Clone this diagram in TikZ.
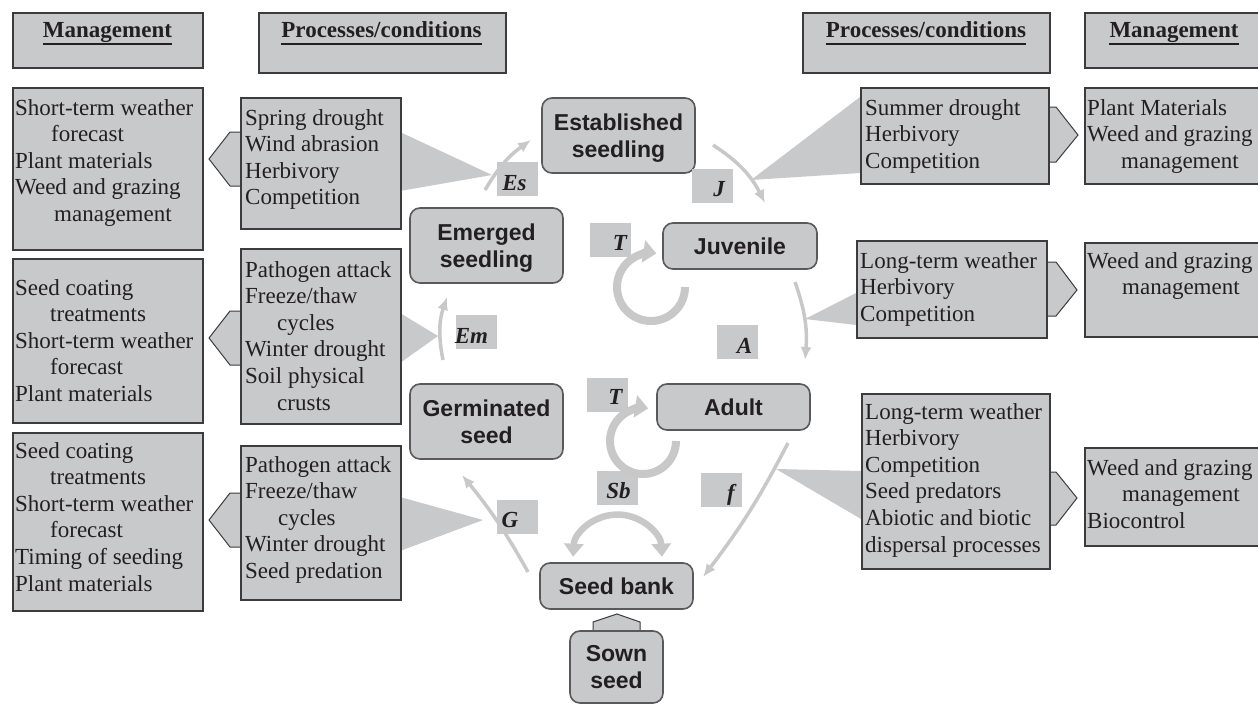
\documentclass[tikz,border=0pt]{standalone}
\usepackage{fontspec}
\setmainfont{Liberation Serif}
\newfontfamily\sansfam{Liberation Sans}
\usetikzlibrary{arrows.meta}
\definecolor{boxfill}{RGB}{200,201,203}
\definecolor{boxline}{RGB}{60,60,62}
\definecolor{arrgray}{RGB}{200,200,201}
\definecolor{txt}{RGB}{35,31,32}
\newcommand{\mylines}[1]{\begin{tabular}[t]{@{}l@{}}#1\end{tabular}}
\newcommand{\mycenter}[1]{\vbox{\kern6pt\hbox{\begin{tabular}{@{}c@{}}#1\end{tabular}}}}
\begin{document}
\begin{tikzpicture}[x=1pt,y=1pt,
 every node/.style={text=txt},
 infobox/.style={draw=boxline, fill=boxfill, line width=1.6pt, inner sep=0pt, anchor=north west},
 stxt/.style={font=\fontsize{23}{26.6}\selectfont, inner sep=0pt, anchor=base west},
 hdr/.style={font=\fontsize{23}{26.6}\selectfont\bfseries, inner sep=0pt, anchor=base},
 uline/.style={draw=txt, line width=2.6pt},
 state/.style={draw=boxline!85, fill=boxfill, line width=1.6pt, rounded corners=10pt, inner sep=0pt, font=\fontsize{23}{27}\selectfont\sansfam\bfseries},
 lblbox/.style={fill=boxfill, inner sep=0pt, minimum width=41pt, minimum height=34pt},
 lbltxt/.style={font=\fontsize{23}{26}\selectfont\bfseries\itshape, inner sep=0pt, anchor=base},
 wedge/.style={fill=boxfill},
 pent/.style={draw=boxline, fill=boxfill, line width=1pt, line join=miter},
 flow/.style={draw=arrgray, line width=3.5pt, -{Latex[length=13pt,width=11pt]}},
 loopy/.style={draw=arrgray, line width=8pt, -{Triangle[length=13pt,width=22pt]}},
 dbl/.style={draw=arrgray, line width=6.5pt, {Triangle[length=13pt,width=19pt]}-{Triangle[length=13pt,width=19pt]}},
]
\useasboundingbox (0,0) rectangle (1258,-704);
\clip (0,0) rectangle (1258,-704);

% wedges (callouts)
\fill[wedge] (400,-132) -- (492,-175) -- (400,-191) -- cycle;
\fill[wedge] (400,-313) -- (438,-336) -- (400,-363) -- cycle;
\fill[wedge] (400,-497) -- (483,-520) -- (400,-551) -- cycle;
\fill[wedge] (860,-97) -- (751,-180) -- (860,-173) -- cycle;
\fill[wedge] (856,-293) -- (805,-319) -- (856,-325) -- cycle;
\fill[wedge] (861,-471) -- (776,-469) -- (861,-519) -- cycle;

% pentagon arrows to management
\filldraw[pent] (240,-132) -- (230,-132) -- (209,-159) -- (230,-186) -- (240,-186);
\filldraw[pent] (240,-311) -- (230,-311) -- (209,-338) -- (230,-365) -- (240,-365);
\filldraw[pent] (240,-493) -- (230,-493) -- (209,-520) -- (230,-547) -- (240,-547);
\filldraw[pent] (1048,-107) -- (1056,-107) -- (1078,-135) -- (1056,-162) -- (1048,-162);
\filldraw[pent] (1046,-262) -- (1056,-262) -- (1077,-290) -- (1056,-316) -- (1046,-316);
\filldraw[pent] (1049,-472) -- (1056,-472) -- (1077,-498) -- (1056,-525) -- (1049,-525);
\filldraw[pent] (593,-631) -- (593,-622) -- (617,-614) -- (640,-622) -- (640,-631);

% header boxes
\node[infobox, minimum width=190pt, minimum height=55pt] (bHLM) at (12,-12) {};
\node[infobox, minimum width=247pt, minimum height=60pt] (bHLP) at (258,-12) {};
\node[infobox, minimum width=247pt, minimum height=60pt] (bHRP) at (802,-12) {};
\node[infobox, minimum width=190pt, minimum height=55pt] (bHRM) at (1084,-12) {};
\node[hdr] (hLM) at (107.5,-37) {Management};
\node[hdr] (hLP) at (381.5,-37) {Processes/conditions};
\node[hdr] (hRP) at (926,-37) {Processes/conditions};
\node[hdr] (hRM) at (1174,-37) {Management};
\foreach \h in {hLM,hLP,hRP,hRM}{
  \draw[uline] ([yshift=-7pt]\h.base west) -- ([yshift=-7pt]\h.base east);
}

% information boxes
\node[infobox, minimum width=190pt, minimum height=162pt] (LM1) at (12,-87) {};
\node[infobox, minimum width=160pt, minimum height=131pt] (LP1) at (240,-97) {};
\node[infobox, minimum width=190pt, minimum height=164pt] (LM2) at (12,-258) {};
\node[infobox, minimum width=160pt, minimum height=175pt] (LP2) at (240,-248) {};
\node[infobox, minimum width=190pt, minimum height=178pt] (LM3) at (12,-432) {};
\node[infobox, minimum width=160pt, minimum height=154pt] (LP3) at (240,-445) {};
\node[infobox, minimum width=188pt, minimum height=96pt] (RP1) at (860,-87) {};
\node[infobox, minimum width=190pt, minimum height=96pt] (RM1) at (1084,-87) {};
\node[infobox, minimum width=190pt, minimum height=97pt] (RP2) at (856,-240) {};
\node[infobox, minimum width=190pt, minimum height=94pt] (RM2) at (1084,-242) {};
\node[infobox, minimum width=188pt, minimum height=175pt] (RP3) at (861,-393) {};
\node[infobox, minimum width=190pt, minimum height=98pt] (RM3) at (1084,-447) {};

\node[stxt] (tLM1) at (15,-115) {\mylines{Short-term weather\\ \hspace*{36pt}forecast\\ Plant materials\\ Weed and grazing\\ \hspace*{39pt}management}};
\node[stxt] (tLP1) at (245,-125) {\mylines{Spring drought\\ Wind abrasion\\ Herbivory\\ Competition}};
\node[stxt] (tLM2) at (15,-295) {\mylines{Seed coating\\ \hspace*{35pt}treatments\\ Short-term weather\\ \hspace*{35pt}forecast\\ Plant materials}};
\node[stxt] (tLP2) at (245,-277) {\mylines{Pathogen attack\\ Freeze/thaw\\ \hspace*{32pt}cycles\\ Winter drought\\ Soil physical\\ \hspace*{32pt}crusts}};
\node[stxt] (tLM3) at (15,-458) {\mylines{Seed coating\\ \hspace*{35pt}treatments\\ Short-term weather\\ \hspace*{35pt}forecast\\ Timing of seeding\\ Plant materials}};
\node[stxt] (tLP3) at (245,-472) {\mylines{Pathogen attack\\ Freeze/thaw\\ \hspace*{33pt}cycles\\ Winter drought\\ Seed predation}};
\node[stxt] (tRP1) at (865,-115) {\mylines{Summer drought\\ Herbivory\\ Competition}};
\node[stxt] (tRM1) at (1087,-115) {\mylines{Plant Materials\\ Weed and grazing\\ \hspace*{34pt}management}};
\node[stxt] (tRP2) at (860,-268) {\mylines{Long-term weather\\ Herbivory\\ Competition}};
\node[stxt] (tRM2) at (1087,-268) {\mylines{Weed and grazing\\ \hspace*{35pt}management}};
\node[stxt] (tRP3) at (865,-419) {\mylines{Long-term weather\\ Herbivory\\ Competition\\ Seed predators\\ Abiotic and biotic\\ dispersal processes}};
\node[stxt] (tRM3) at (1087,-475) {\mylines{Weed and grazing\\ \hspace*{35pt}management\\ Biocontrol}};

% life-stage nodes
\node[state, minimum width=153pt, minimum height=75pt] (est) at (618.5,-135.5) {\mycenter{Established\\seedling}};
\node[state, minimum width=153pt, minimum height=75pt] (emg) at (486.5,-245.5) {\mycenter{Emerged\\seedling}};
\node[state, minimum width=154pt, minimum height=46pt] (juv) at (740,-246) {\mycenter{Juvenile}};
\node[state, minimum width=153pt, minimum height=75pt] (ger) at (486.5,-421.5) {\mycenter{Germinated\\seed}};
\node[state, minimum width=153pt, minimum height=46pt] (adu) at (733.5,-407) {\mycenter{Adult}};
\node[state, minimum width=153pt, minimum height=46pt] (sbk) at (616.5,-586) {\mycenter{Seed bank}};
\node[state, minimum width=93pt, minimum height=72pt] (sown) at (616.5,-667) {\mycenter{Sown\\seed}};

% transition label boxes
\node[lblbox] (bEs) at (517.5,-179) {};
\node[lblbox] (bJ) at (712,-186) {};
\node[lblbox] (bT1) at (610,-240) {};
\node[lblbox] (bA) at (737.5,-341.5) {};
\node[lblbox] (bEm) at (476,-331.5) {};
\node[lblbox] (bT2) at (607,-395) {};
\node[lblbox] (bSb) at (617,-488) {};
\node[lblbox] (bf) at (721,-490) {};
\node[lblbox] (bG) at (517.5,-516.5) {};
\node[lbltxt] (lEs) at (514.5,-190) {Es};
\node[lbltxt] (lJ) at (719,-196) {J};
\node[lbltxt] (lT1) at (620,-250) {T};
\node[lbltxt] (lA) at (744.5,-353) {A};
\node[lbltxt] (lEm) at (471.5,-343) {Em};
\node[lbltxt] (lT2) at (615.5,-404) {T};
\node[lbltxt] (lSb) at (618.5,-498) {Sb};
\node[lbltxt] (lf) at (731,-500) {f};
\node[lbltxt] (lG) at (510,-527) {G};

% transition arrows
\coordinate (esS) at (485,-190); \coordinate (esE) at (531,-140);
\coordinate (jS) at (713,-145);  \coordinate (jE) at (765,-203);
\coordinate (aS) at (795,-282);  \coordinate (aE) at (805,-360);
\coordinate (fS) at (788,-443);  \coordinate (fE) at (703,-577);
\coordinate (gS) at (528,-572);  \coordinate (gE) at (462,-475);
\coordinate (emS) at (443,-360); \coordinate (emE) at (447,-297);
\coordinate (t1S) at (685,-287);
\coordinate (t2S) at (676,-441);
\coordinate (sbS) at (573.1,-556.7);

\draw[flow] (esS) to[bend left=12] (esE);
\draw[flow] (jS) to[bend left=15] (jE);
\draw[flow] (aS) to[bend left=12] (aE);
\draw[flow] (fS) to[bend left=5] (fE);
\draw[flow] (gS) to[bend right=5] (gE);
\draw[flow] (emS) to[bend left=15] (emE);
\draw[loopy] (t1S) arc[start angle=0, end angle=-279, radius=34];
\draw[loopy] (t2S) arc[start angle=0, end angle=-279, radius=33];
\draw[dbl] (sbS) arc[start angle=177, end angle=3, radius=44.5];
\end{tikzpicture}
\end{document}
